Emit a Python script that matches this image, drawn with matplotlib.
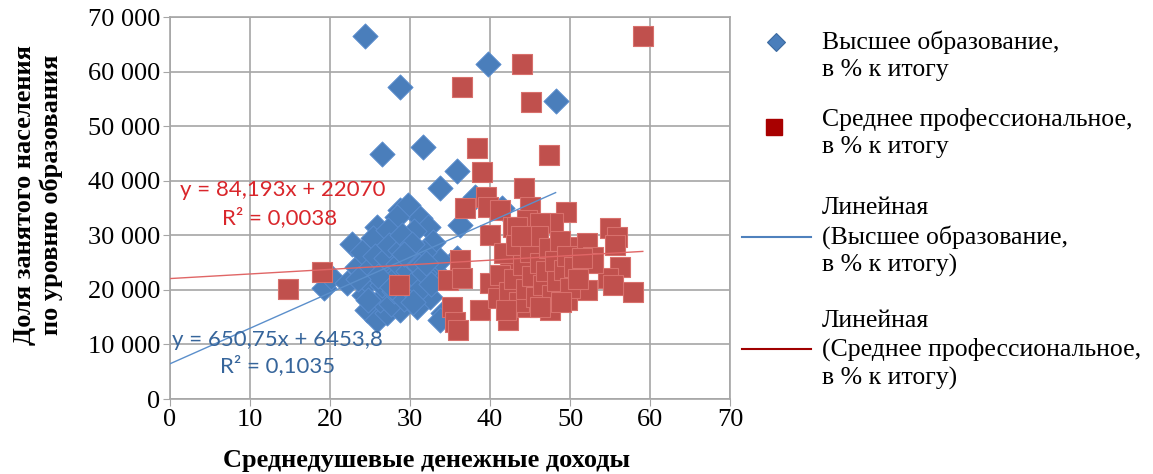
import numpy as np
import matplotlib.pyplot as plt
from matplotlib.ticker import FuncFormatter

# Высшее образование (x - доходы, y - доля)
higher_x = [24.4, 28.7, 39.8, 48.2, 26.5, 31.6, 35.9, 33.8, 38.1, 41.5, 36.3, 22.8, 19.3, 20.1,
            34.1, 33.8, 35.9, 32.5,
            28.8, 29.8, 31.3, 28.4, 25.9, 25.4, 32.3, 32.9, 24.6, 25.9, 27.1, 28.8, 30.9, 32.5,
            22.1, 23.4, 33.4, 33.8, 27.2, 30.5, 24.0, 31.8,
            24.2, 24.8, 25.0, 25.6, 26.3, 26.5, 26.8, 27.0, 27.4, 27.6, 28.0, 28.2, 28.5, 28.7,
            29.0, 29.3, 29.5, 29.8, 30.0, 30.2, 30.6, 30.9, 31.1, 31.4, 31.7, 32.0, 32.6, 26.0,
            27.8, 29.2, 30.4, 23.5, 24.8]
higher_y = [66500, 57200, 61400, 54600, 44900, 46200, 41800, 38700, 37000, 35000, 31900, 28400, 20300, 22300,
            15800, 14500, 25800, 21800,
            34600, 35500, 33200, 33400, 31500, 29500, 31500, 28800, 16300, 14500, 15800, 16300, 16900, 18700,
            21300, 24200, 23100, 25500, 31000, 30800, 27000, 26900,
            19000, 21500, 24000, 26200, 18200, 20800, 23200, 25800, 28200, 17400, 19800, 22300, 24700, 27300,
            30000, 18300, 20900, 23400, 25900, 28400, 19500, 22000, 24300, 20400, 23000, 25000, 21000, 22500,
            20500, 26500, 17800, 21900, 18200]

# Среднее профессиональное
middle_x = [59.1, 44.0, 36.5, 45.1, 38.4, 47.4, 39.0, 44.2, 39.5, 36.9, 49.5, 14.8, 19.0, 28.6,
            40.0, 35.3, 35.6, 36.0, 34.8, 36.3, 36.5, 42.3, 38.8, 39.8, 41.3, 45.0,
            55.0, 55.9, 55.6, 56.3, 57.9, 54.8, 55.4,
            47.9, 50.4, 52.1, 52.9, 42.9, 44.6, 46.3, 43.4, 42.5, 40.0, 44.6, 47.5, 49.6, 52.1,
            52.9, 41.0,
            41.2, 41.8, 42.4, 43.0, 43.3, 43.6, 44.1, 44.5, 45.0, 45.2, 45.7, 46.0, 46.3, 46.6,
            47.0, 47.4, 47.8, 48.1, 48.4, 48.8, 49.2, 49.6, 50.0, 50.5, 51.0, 51.5, 43.9, 42.0,
            46.2, 48.9]
middle_y = [66500, 61400, 57200, 54500, 46000, 44700, 41600, 38600, 37000, 35000, 34300, 20200, 23300, 20900,
            30000, 16900, 14100, 12600, 21800, 25500, 22200, 14500, 16300, 35200, 34600, 35200,
            31300, 29700, 28200, 24200, 19600, 22200, 20900,
            32200, 27900, 28600, 26000, 31500, 32800, 32200, 31500, 24900, 21200, 16900, 16300, 18100, 20000,
            24900, 18500,
            22800, 26800, 19600, 22000, 28200, 17800, 24500, 20200, 27000, 22600, 18600, 29800, 25000, 20800,
            23400, 27600, 19000, 25300, 21600, 29000, 23600, 26200, 20400, 24200, 22000, 25800, 29800, 16300,
            16900, 17700]

# Линии тренда (коэффициенты с графика)
higher_fit = (650.75, 6453.8)
middle_fit = (84.193, 22070)

blue = '#4A7EBB'
red = '#C0504D'
serif = 'Liberation Serif'

fig = plt.figure(figsize=(11.53, 4.74), dpi=100)
ax = fig.add_axes([170 / 1153, 75 / 474, 560 / 1153, 382 / 474])

ax.scatter(higher_x, higher_y, marker='D', s=165, color=blue, edgecolors='#5B8ED0',
           linewidths=0.6, zorder=3)
ax.scatter(middle_x, middle_y, marker='s', s=200, color=red, edgecolors='#D8706C',
           linewidths=0.8, zorder=4)

xb = np.array([0, max(higher_x)])
ax.plot(xb, higher_fit[0] * xb + higher_fit[1], color='#5B8FCB', lw=1.0, zorder=5)
xm = np.array([0, max(middle_x)])
ax.plot(xm, middle_fit[0] * xm + middle_fit[1], color='#E06666', lw=1.0, zorder=5)

eq_kw = dict(fontsize=16, family='Lato', va='center', ha='left', zorder=6)
ax.text(1.2, 38300, 'y = 84,193x + 22070', color='#D9262B', **eq_kw)
ax.text(6.5, 33200, 'R² = 0,0038', color='#D9262B', **eq_kw)
ax.text(0.2, 10800, 'y = 650,75x + 6453,8', color='#36659B', **eq_kw)
ax.text(6.2, 6200, 'R² = 0,1035', color='#36659B', **eq_kw)

ax.set_xlim(0, 70)
ax.set_ylim(0, 70000)
ax.set_xticks(range(0, 71, 10))
ax.set_yticks(range(0, 70001, 10000))
ax.yaxis.set_major_formatter(FuncFormatter(lambda v, p: f'{int(v):,}'.replace(',', ' ')))
ax.grid(True, color='#A6A6A6', lw=1.2)
ax.set_axisbelow(True)
for s in ax.spines.values():
    s.set_color('#A6A6A6')
    s.set_linewidth(1.2)
ax.tick_params(direction='out', length=5, color='#A6A6A6', labelsize=19, pad=2)
for lbl in ax.get_xticklabels() + ax.get_yticklabels():
    lbl.set_family(serif)

# подписи осей и легенда в пикселях фигуры
lax = fig.add_axes([0, 0, 1, 1], zorder=-1)
lax.set_xlim(0, 1153)
lax.set_ylim(474, 0)
lax.axis('off')

lax.text(427, 461, 'Среднедушевые денежные доходы', family=serif, weight='bold',
         fontsize=19, ha='center', va='center')
lax.text(38, 195, 'Доля занятого населения\nпо уровню образования', family=serif,
         weight='bold', fontsize=19, ha='center', va='center', rotation=90, linespacing=1.15)

leg_kw = dict(family=serif, fontsize=18.5, va='center', ha='left', linespacing=1.3)
lax.plot([776], [42], marker='D', ms=9, color=blue, mec='#3C6AA0', mew=0.8)
lax.text(822, 56, 'Высшее образование,\nв % к итогу', **leg_kw)
lax.plot([774], [127], marker='s', ms=11, color='#A80000', mec='#A80000')
lax.text(822, 133, 'Среднее профессиональное,\nв % к итогу', **leg_kw)
lax.plot([742, 811], [237, 237], color='#4F81BD', lw=1.5)
lax.text(822, 237, 'Линейная\n(Высшее образование,\nв % к итогу)', **leg_kw)
lax.plot([742, 811], [349, 349], color='#A00000', lw=1.5)
lax.text(822, 350, 'Линейная\n(Среднее профессиональное,\nв % к итогу)', **leg_kw)

fig.savefig('out.png', dpi=100)
